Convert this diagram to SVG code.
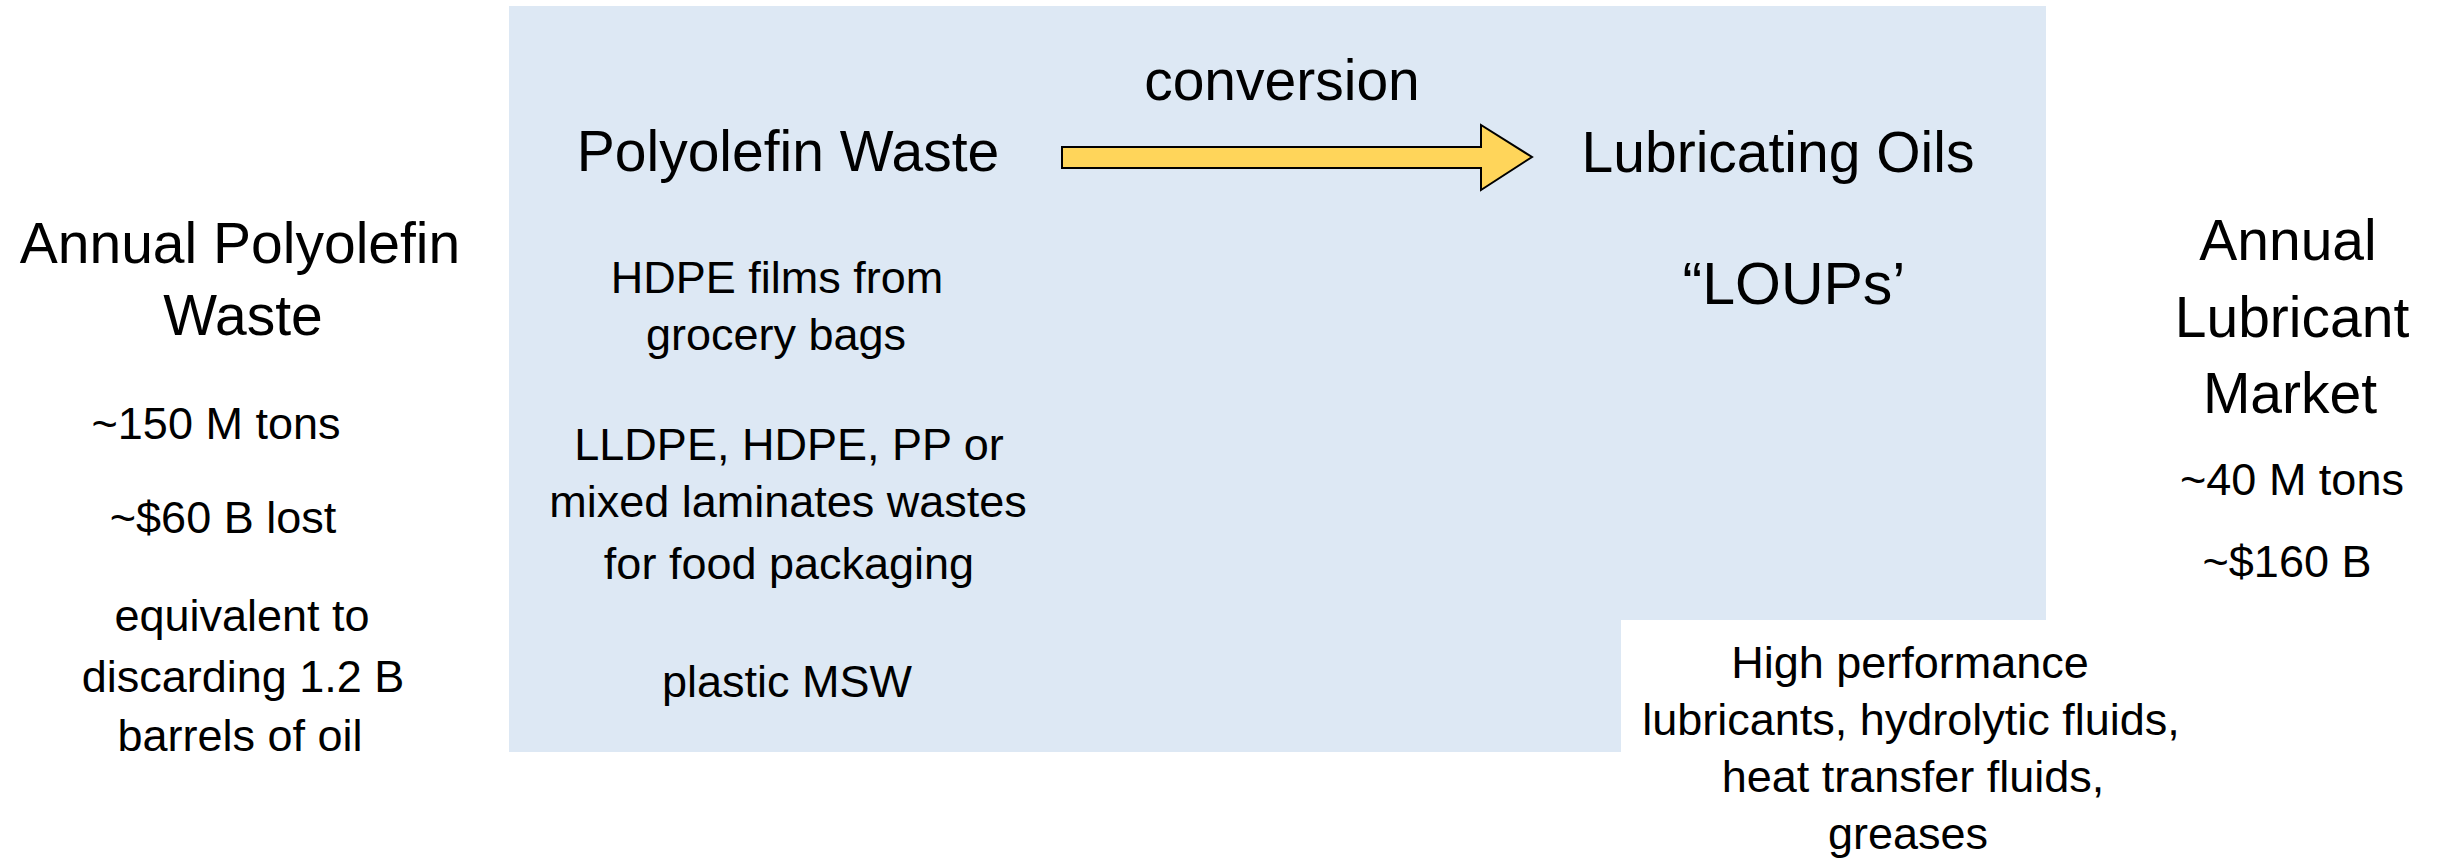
<svg xmlns="http://www.w3.org/2000/svg" width="2442" height="867" viewBox="0 0 2442 867">
<style>
text{font-family:"Liberation Sans",Arial,sans-serif;fill:#000;text-anchor:middle}
.big{font-size:57px}
.sm{font-size:45px}
</style>
<rect x="0" y="0" width="2442" height="867" fill="#fff"/>
<g id="panel">
<rect x="509" y="6" width="1537" height="746" fill="#DDE8F4"/>
<rect x="1621" y="620" width="440" height="140" fill="#fff"/>
</g>
<g id="connectors">
<path d="M1062 147 H1481 V125 L1532 157 L1481 190 V168 H1062 Z" fill="#FFD55A" stroke="#000" stroke-width="2" stroke-linejoin="miter"/>
<text class="big" x="1282" y="100">conversion</text>
</g>
<g id="annual-waste">
<text class="big" x="240" y="263">Annual Polyolefin</text>
<text class="big" x="243" y="335">Waste</text>
<text class="sm" x="216" y="439">~150 M tons</text>
<text class="sm" x="223" y="533">~$60 B lost</text>
<text class="sm" x="242" y="631">equivalent to</text>
<text class="sm" x="243" y="692">discarding 1.2 B</text>
<text class="sm" x="240" y="751">barrels of oil</text>
</g>
<g id="polyolefin-waste">
<text class="big" x="788" y="171">Polyolefin Waste</text>
<text class="sm" x="777" y="293">HDPE films from</text>
<text class="sm" x="776" y="350">grocery bags</text>
<text class="sm" x="789" y="460">LLDPE, HDPE, PP or</text>
<text class="sm" x="788" y="517">mixed laminates wastes</text>
<text class="sm" x="789" y="579">for food packaging</text>
<text class="sm" x="787" y="697">plastic MSW</text>
</g>
<g id="lubricating-oils">
<text class="big" x="1778" y="172">Lubricating Oils</text>
<text x="1794" y="304" style="font-size:59px">“LOUPs’</text>
</g>
<g id="applications">
<text class="sm" x="1910" y="678">High performance</text>
<text class="sm" x="1911" y="735">lubricants, hydrolytic fluids,</text>
<text class="sm" x="1913" y="792">heat transfer fluids,</text>
<text class="sm" x="1908" y="849">greases</text>
</g>
<g id="lubricant-market">
<text class="big" x="2288" y="260">Annual</text>
<text class="big" x="2292" y="337">Lubricant</text>
<text class="big" x="2290" y="413">Market</text>
<text class="sm" x="2292" y="495">~40 M tons</text>
<text class="sm" x="2287" y="577">~$160 B</text>
</g>
</svg>
